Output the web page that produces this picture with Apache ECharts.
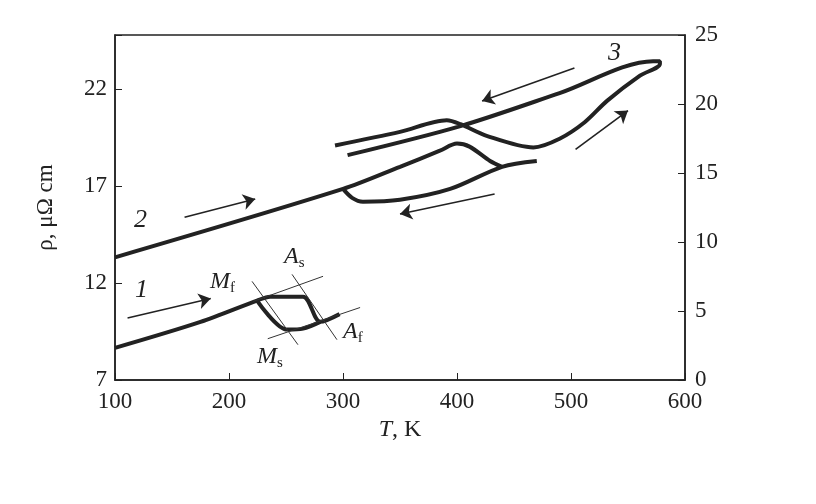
<!DOCTYPE html>
<html><head><meta charset="utf-8">
<script src="https://cdn.jsdelivr.net/npm/echarts@6/dist/echarts.min.js"></script>
<style>body{margin:0;background:#fff}#content{width:816px;height:504px}</style>
</head><body><div id="content"></div>
<script>
var myChart = echarts.init(document.getElementById('content'));

// curve 1 [T, rho]
var curve1Main = [[100,8.66],[175,10.0],[224.6,11.1],[236,11.3],[265,11.3],[280,10.0],[297,10.4]];
var curve1Low = [[224.6,11.1],[251,9.6],[265,9.65],[280,10.0]];
// curve 2 heating
var curve2Main = [[100,13.33],[300,16.86],[350,18.0],[385,18.83],[400,19.2],[411,19.04],[429,18.3],[439.5,18.0]];
var curve2Low = [[300,16.86],[308,16.4],[317.5,16.2],[350,16.3],[394,16.86],[439.5,18.0],[470,18.3]];
// curve 3
var curve3 = [[304,18.6],[403,20.1],[490,21.8],[572,23.45],[578,23.45],[578,23.3],[560.5,22.7],[531.6,21.4],[512,20.3],[490,19.45],[467,19.0],[426,19.6],[403,20.2],[391,20.4],[350,19.8],[293,19.1]];
var arrows = [
    [[111,10.2],[184,11.2]],
    [[161,15.4],[223,16.34]],
    [[503,23.1],[422,21.4]],
    [[433,16.6],[350,15.56]],
    [[504,18.9],[550,20.9]]
];
var guides = [
    [[220.2,12.09],[260.5,8.82]],
    [[221,11.05],[282.5,12.35]],
    [[255.3,12.45],[294.7,9.08]],
    [[234,9.13],[315,10.74]]
];
var xTicks = [100, 600, 100];
var leftTicks = [7, 24.8, 5];
var rightTicks = [0, 25, 5];

var serif = 'Liberation Serif';
var curveStyle = {color:'#222', width:4};

function curve(d){
    return {type:'line', data:d, smooth:0.3, symbol:'none', lineStyle:curveStyle, silent:true};
}
function pairs(list, arrow){
    return list.map(function(p){
        return [{coord:p[0], symbol:'none'},{coord:p[1], symbol: arrow ? 'arrow' : 'none', symbolSize: arrow ? 12 : 0}];
    });
}
function sub(x, y, a, b){
    return {type:'text', left:x, top:y, style:{text:'{a|'+a+'}{b|'+b+'}', fill:'#222',
        rich:{a:{fontFamily:serif, fontStyle:'italic', fontSize:24, fill:'#222'},
              b:{fontFamily:serif, fontSize:15, fill:'#222', padding:[12,0,0,0]}}}};
}
function num(x, y, t){
    return {type:'text', left:x, top:y, style:{text:t, fontFamily:serif, fontStyle:'italic', fontSize:26, fill:'#222'}};
}

option = {
    animation:false,
    grid:{left:115, right:131, top:35, bottom:124, show:true, borderColor:'#222', borderWidth:1.5},
    xAxis:{type:'value', min:xTicks[0], max:xTicks[1], interval:xTicks[2],
        name:'{i|T}, K', nameLocation:'middle', nameGap:38,
        nameTextStyle:{fontFamily:serif, fontSize:24, color:'#222', rich:{i:{fontStyle:'italic', fontFamily:serif, fontSize:24}}},
        axisLine:{lineStyle:{color:'#222', width:1.5}}, axisTick:{inside:true, length:7, lineStyle:{color:'#222'}},
        splitLine:{show:false},
        axisLabel:{fontFamily:serif, fontSize:23, color:'#222', margin:10}},
    yAxis:[
        {type:'value', min:leftTicks[0], max:leftTicks[1], interval:leftTicks[2],
         name:'ρ, μΩ cm', nameLocation:'middle', nameGap:58, nameRotate:90,
         nameTextStyle:{fontFamily:serif, fontSize:23, color:'#222'},
         axisLine:{show:true, lineStyle:{color:'#222', width:1.5}}, axisTick:{inside:true, length:7, lineStyle:{color:'#222'}},
         splitLine:{show:false},
         axisLabel:{fontFamily:serif, fontSize:23, color:'#222', formatter:function(v){ return (v-7)%5===0 ? v : ''; }}},
        {type:'value', min:rightTicks[0], max:rightTicks[1], interval:rightTicks[2], position:'right',
         axisLine:{show:true, lineStyle:{color:'#222', width:1.5}}, axisTick:{inside:true, length:7, lineStyle:{color:'#222'}},
         splitLine:{show:false},
         axisLabel:{fontFamily:serif, fontSize:23, color:'#222', margin:10}}
    ],
    series:[
        curve(curve1Main), curve(curve1Low), curve(curve2Main), curve(curve2Low), curve(curve3),
        {type:'line', data:[], symbol:'none', silent:true,
         markLine:{silent:true, animation:false, label:{show:false}, lineStyle:{color:'#222', width:1.6, type:'solid'}, data:pairs(arrows, true)}},
        {type:'line', data:[], symbol:'none', silent:true,
         markLine:{silent:true, animation:false, label:{show:false}, lineStyle:{color:'#333', width:1, type:'solid'}, data:pairs(guides, false)}}
    ],
    graphic:[
        num(135, 277, '1'), num(134, 207, '2'), num(608, 40, '3'),
        sub(210, 270, 'M', 'f'), sub(284, 245, 'A', 's'), sub(343, 320, 'A', 'f'), sub(257, 345, 'M', 's')
    ]
};
myChart.setOption(option);
</script></body></html>
